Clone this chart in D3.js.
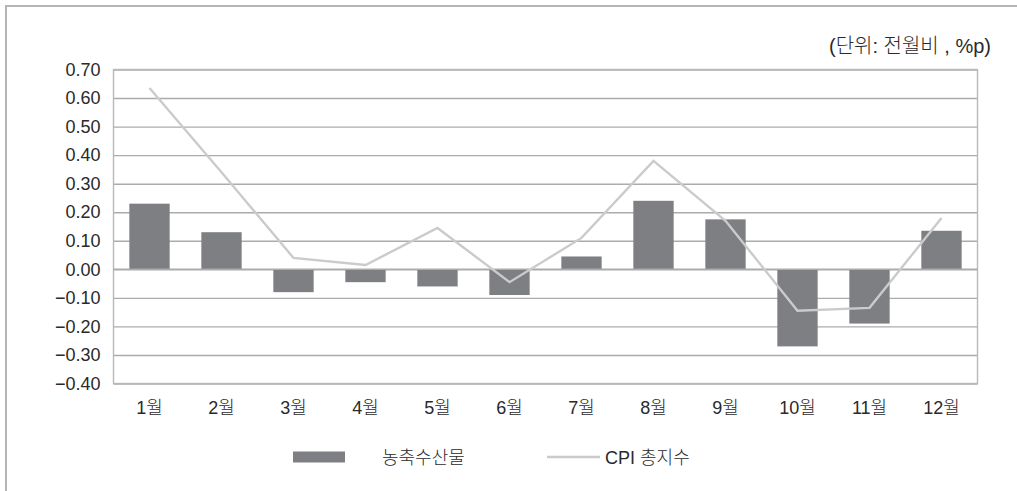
<!DOCTYPE html>
<html>
<head>
<meta charset="utf-8">
<script src="https://cdn.jsdelivr.net/npm/d3@7"></script>
<style>
  html, body { margin: 0; padding: 0; background: #fff; }
  svg { display: block; }
  text { font-family: "Liberation Sans", "Noto Sans CJK KR", sans-serif; fill: #2a2a2a; font-weight: 300; }
</style>
</head>
<body>
<svg id="chart" width="1017" height="491"></svg>
<script>
// Monthly contributions (%p, month-on-month)
const months = ["1월","2월","3월","4월","5월","6월","7월","8월","9월","10월","11월","12월"];
const farmValues = [0.23, 0.13, -0.08, -0.045, -0.06, -0.09, 0.045, 0.24, 0.175, -0.27, -0.19, 0.135];
const cpiValues = [0.635, 0.34, 0.04, 0.015, 0.145, -0.045, 0.11, 0.38, 0.17, -0.145, -0.135, 0.18];
const yTicks = [0.7, 0.6, 0.5, 0.4, 0.3, 0.2, 0.1, 0, -0.1, -0.2, -0.3, -0.4];
const seriesNames = ["농축수산물", "CPI 총지수"];
const unitLabel = "(단위: 전월비 , %p)";

const barColor = "#7e7f83";
const lineColor = "#cbcbcb";
const gridColor = "#ababab";
const fontStack = "'Liberation Sans', 'Noto Sans CJK KR', sans-serif";

const svg = d3.select("#chart");

// outer frame (top and left edges)
svg.append("line").attr("x1", 6).attr("x2", 1017).attr("y1", 6).attr("y2", 6)
  .attr("stroke", "#b5b5b5").attr("stroke-width", 2);
svg.append("line").attr("x1", 6).attr("x2", 6).attr("y1", 5).attr("y2", 491)
  .attr("stroke", "#b5b5b5").attr("stroke-width", 2);

const plot = { left: 113.5, right: 977.5, top: 69.5, bottom: 383.5 };

const x = d3.scaleBand().domain(months)
  .range([plot.left, plot.right]).paddingInner(0.44).paddingOuter(0.22);
const y = d3.scaleLinear().domain([-0.4, 0.7]).range([plot.bottom, plot.top]);

// value labels with a true minus sign
const fmt = d => (d < 0 ? "\u2212" : "") + Math.abs(d).toFixed(2);

// gridlines and value labels
const yAxis = d3.axisLeft(y).tickValues(yTicks).tickFormat(fmt)
  .tickSize(-(plot.right - plot.left)).tickPadding(13);
const gy = svg.append("g").attr("transform", `translate(${plot.left},0)`).call(yAxis);
gy.select(".domain").remove();
gy.selectAll(".tick line").attr("stroke", gridColor).attr("stroke-width", 1.4);
gy.selectAll(".tick text").attr("font-size", 18).attr("fill", "#2a2a2a")
  .attr("font-family", fontStack).attr("font-weight", 300);

// plot border
svg.append("rect").attr("x", plot.left).attr("y", plot.top)
  .attr("width", plot.right - plot.left).attr("height", plot.bottom - plot.top)
  .attr("fill", "none").attr("stroke", "#b8b8b8").attr("stroke-width", 1.4);

// bars
svg.append("g").selectAll("rect").data(farmValues).join("rect")
  .attr("x", (d, i) => x(months[i]))
  .attr("width", x.bandwidth())
  .attr("y", d => y(Math.max(0, d)))
  .attr("height", d => Math.abs(y(d) - y(0)))
  .attr("fill", barColor);

// zero line on top of bars
svg.append("line").attr("x1", plot.left).attr("x2", plot.right)
  .attr("y1", y(0)).attr("y2", y(0)).attr("stroke", gridColor).attr("stroke-width", 1.4);

// CPI line
const line = d3.line().x((d, i) => x(months[i]) + x.bandwidth() / 2).y(d => y(d));
svg.append("path").datum(cpiValues).attr("d", line)
  .attr("fill", "none").attr("stroke", lineColor).attr("stroke-width", 2.4);

// month labels
const xAxis = d3.axisBottom(x).tickSize(0).tickPadding(18);
const gx = svg.append("g").attr("transform", `translate(0,${plot.bottom})`).call(xAxis);
gx.select(".domain").remove();
gx.selectAll(".tick text").attr("font-size", 18).attr("fill", "#2a2a2a")
  .attr("font-family", fontStack).attr("font-weight", 300);

// unit label
svg.append("text").attr("x", 991).attr("y", 53).attr("text-anchor", "end")
  .attr("font-size", 20).text(unitLabel);

// legend
const legend = svg.append("g");
legend.append("rect").attr("x", 293).attr("y", 451.5).attr("width", 52).attr("height", 11)
  .attr("fill", barColor);
legend.append("text").attr("x", 382).attr("y", 464).attr("font-size", 18).text(seriesNames[0]);
legend.append("line").attr("x1", 547).attr("x2", 600).attr("y1", 457).attr("y2", 457)
  .attr("stroke", lineColor).attr("stroke-width", 2.4);
legend.append("text").attr("x", 605).attr("y", 464).attr("font-size", 18).text(seriesNames[1]);
</script>
</body>
</html>
